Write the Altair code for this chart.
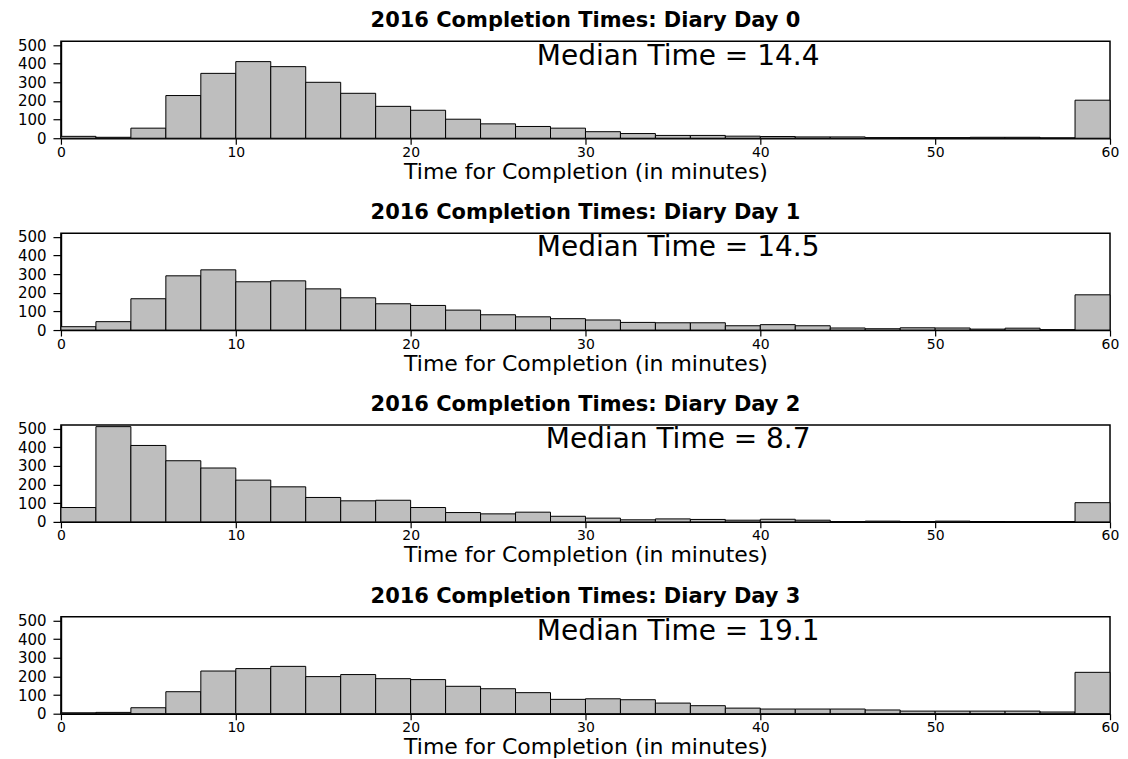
import altair as alt
import pandas as pd

# Histogram bins (minutes)
bin_start = [0, 2, 4, 6, 8, 10, 12, 14, 16, 18, 20, 22, 24, 26, 28,
             30, 32, 34, 36, 38, 40, 42, 44, 46, 48, 50, 52, 54, 56, 58]
bin_end = [2, 4, 6, 8, 10, 12, 14, 16, 18, 20, 22, 24, 26, 28, 30,
           32, 34, 36, 38, 40, 42, 44, 46, 48, 50, 52, 54, 56, 58, 60]

counts_day0 = [10, 5, 54, 229, 348, 411, 384, 300, 241, 171,
               150, 102, 77, 63, 54, 35, 25, 15, 15, 11,
               9, 7, 7, 3, 3, 3, 5, 5, 1, 204]
counts_day1 = [18, 45, 168, 291, 323, 259, 264, 221, 173, 141,
               132, 107, 82, 71, 61, 54, 41, 39, 39, 23,
               29, 23, 11, 7, 12, 11, 5, 10, 1, 189]
counts_day2 = [77, 511, 410, 328, 289, 224, 188, 131, 113, 116,
               77, 50, 43, 52, 30, 20, 11, 16, 13, 9,
               14, 9, 0, 4, 0, 4, 2, 0, 0, 103]
counts_day3 = [5, 7, 32, 118, 229, 242, 254, 199, 210, 188,
               183, 147, 134, 113, 77, 80, 75, 57, 43, 30,
               25, 25, 25, 20, 14, 14, 14, 14, 9, 222]

days = ["0", "1", "2", "3"]
medians = ["14.4", "14.5", "8.7", "19.1"]
x_ticks = [0, 10, 20, 30, 40, 50, 60]
y_ticks = [0, 100, 200, 300, 400, 500]
label_x = [35.3]
label_y = [438]

all_counts = [counts_day0, counts_day1, counts_day2, counts_day3]

FONT = "DejaVu Sans"

x_scale = alt.Scale(domain=[0, 60], nice=False, zero=False)
y_scale = alt.Scale(domain=[0, 520], nice=False)
x_axis = alt.Axis(values=x_ticks, title="Time for Completion (in minutes)",
                  format="d", grid=False, tickSize=6, labelPadding=1,
                  labelFontSize=14, titleFontSize=22, titleFontWeight="normal",
                  titleY=33, titleBaseline="middle",
                  labelFlush=False, labelOverlap=False)
y_axis = alt.Axis(values=y_ticks, title=None, grid=False, tickSize=8,
                  labelPadding=7, labelFontSize=15, labelFlush=False,
                  labelOverlap=False)

panels = []
for day, counts, med in zip(days, all_counts, medians):
    df = pd.DataFrame({"start": bin_start, "end": bin_end, "count": counts})
    bars = alt.Chart(df).mark_rect(
        fill="#bebebe", stroke="black", strokeWidth=1, opacity=1
    ).encode(
        x=alt.X("start:Q", scale=x_scale, axis=x_axis),
        x2="end:Q",
        y=alt.Y("count:Q", scale=y_scale, axis=y_axis),
        y2=alt.datum(0),
    )
    ann_df = pd.DataFrame({"start": label_x, "count": label_y,
                           "label": [f"Median Time = {med}"]})
    ann = alt.Chart(ann_df).mark_text(
        font=FONT, fontSize=28, color="black", align="center", baseline="middle"
    ).encode(
        x=alt.X("start:Q", scale=x_scale, axis=x_axis),
        y=alt.Y("count:Q", scale=y_scale, axis=y_axis),
        text="label:N",
    )
    panel = alt.layer(bars, ann).properties(
        width=1050, height=97,
        title=alt.TitleParams(f"2016 Completion Times: Diary Day {day}",
                              font=FONT, fontSize=21, fontWeight="bold",
                              color="black", anchor="middle", offset=7),
    )
    panels.append(panel)

chart = alt.vconcat(*panels, spacing=17).properties(
    padding={"left": 8, "top": 0, "right": 0, "bottom": 0},
    background="white",
).configure_view(
    stroke="black", strokeWidth=1.5
).configure_axis(
    domainColor="black", tickColor="black", labelColor="black", titleColor="black",
    labelFont=FONT, titleFont=FONT, domainWidth=1.5, tickWidth=1.2
)

chart.save("out.html", embed_options={"renderer": "svg", "actions": False})
